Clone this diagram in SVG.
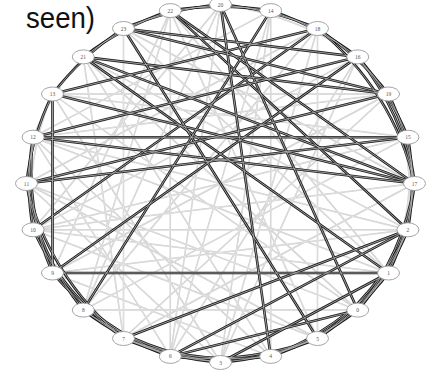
<svg xmlns="http://www.w3.org/2000/svg" xmlns:xlink="http://www.w3.org/1999/xlink" width="433" height="370" viewBox="0 0 433 370">
<style>
.bg{fill:#ffffff}
.title{font-family:"Liberation Sans",Arial,sans-serif;font-size:29px;fill:#111}
.g-out{fill:none;stroke:#c9c9c9;stroke-width:1.5}
.g-in{fill:none;stroke:#f4f4f4;stroke-width:0.45}
.d-out{fill:none;stroke:#1c1c1c;stroke-width:2.6}
.d-in{fill:none;stroke:#bdbdbd;stroke-width:0.8}
.node ellipse{fill:#fff;stroke:#9a9a9a;stroke-width:0.9}
.node text{font-family:"Liberation Serif",serif;font-size:5.5px;fill:#555;text-anchor:middle}
</style>
<rect class="bg" x="0" y="0" width="433" height="370"/>
<text class="title" x="26" y="28" textLength="69" lengthAdjust="spacingAndGlyphs">seen)</text>
<g id="connectors">
<g class="g-out"><g id="grayEdges">
<path d="M170.3,10.6L170.3,356.4"/>
<path d="M270.7,10.6L270.7,356.4"/>
<path d="M123.5,28.5L123.5,338.5"/>
<path d="M317.5,28.5L317.5,338.5"/>
<path d="M33.1,229.8L407.9,229.8"/>
<path d="M83.3,310.1L357.7,310.1"/>
<path d="M52.5,94L388.5,94"/>
<path d="M170.3,10.6L52.5,273"/>
<path d="M170.3,10.6L388.5,273"/>
<path d="M220.5,4.5L33.1,229.8"/>
<path d="M220.5,4.5L83.3,310.1"/>
<path d="M220.5,4.5L170.3,356.4"/>
<path d="M270.7,10.6L33.1,137.2"/>
<path d="M270.7,10.6L170.3,356.4"/>
<path d="M270.7,10.6L220.5,362.5"/>
<path d="M317.5,28.5L26.5,183.5"/>
<path d="M317.5,28.5L83.3,310.1"/>
<path d="M357.7,56.9L33.1,229.8"/>
<path d="M357.7,56.9L220.5,362.5"/>
<path d="M388.5,94L52.5,273"/>
<path d="M388.5,94L123.5,338.5"/>
<path d="M388.5,94L33.1,137.2"/>
<path d="M407.9,137.2L33.1,229.8"/>
<path d="M407.9,137.2L83.3,310.1"/>
<path d="M407.9,137.2L52.5,94"/>
<path d="M414.5,183.5L33.1,229.8"/>
<path d="M414.5,183.5L123.5,338.5"/>
<path d="M414.5,183.5L123.5,28.5"/>
<path d="M407.9,229.8L33.1,137.2"/>
<path d="M407.9,229.8L83.3,56.9"/>
<path d="M407.9,229.8L52.5,273"/>
<path d="M388.5,273L33.1,137.2"/>
<path d="M388.5,273L123.5,28.5"/>
<path d="M388.5,273L33.1,229.8"/>
<path d="M357.7,310.1L26.5,183.5"/>
<path d="M357.7,310.1L83.3,56.9"/>
<path d="M357.7,310.1L52.5,94"/>
<path d="M317.5,338.5L33.1,229.8"/>
<path d="M317.5,338.5L26.5,183.5"/>
<path d="M317.5,338.5L170.3,10.6"/>
<path d="M270.7,356.4L33.1,137.2"/>
<path d="M270.7,356.4L83.3,56.9"/>
<path d="M270.7,356.4L52.5,273"/>
<path d="M220.5,362.5L52.5,94"/>
<path d="M220.5,362.5L26.5,183.5"/>
<path d="M220.5,362.5L317.5,28.5"/>
<path d="M170.3,356.4L33.1,137.2"/>
<path d="M170.3,356.4L357.7,56.9"/>
<path d="M123.5,338.5L83.3,56.9"/>
<path d="M83.3,310.1L170.3,10.6"/>
<path d="M33.1,137.2A300,280 0 0 1 83.3,56.9"/>
<path d="M33.1,229.8A300,280 0 0 1 52.5,94"/>
<path d="M52.5,273A300,280 0 0 1 26.5,183.5"/>
<path d="M407.9,137.2A300,280 0 0 1 388.5,273"/>
<path d="M388.5,94A300,280 0 0 1 407.9,229.8"/>
<path d="M270.7,356.4A300,280 0 0 1 170.3,356.4"/>
<path d="M220.5,4.5A300,280 0 0 1 357.7,56.9"/>
</g></g>
<use xlink:href="#grayEdges" href="#grayEdges" class="g-in"/>
<g class="d-out"><g id="darkEdges">
<path d="M33.1,137.2L407.9,137.2"/>
<path d="M26.5,183.5L407.9,137.2"/>
<path d="M33.1,137.2L414.5,183.5"/>
<path d="M52.5,94L414.5,183.5"/>
<path d="M52.5,94L317.5,28.5"/>
<path d="M83.3,56.9L414.5,183.5"/>
<path d="M83.3,56.9L388.5,273"/>
<path d="M123.5,28.5L388.5,94"/>
<path d="M123.5,28.5L317.5,338.5"/>
<path d="M220.5,4.5L357.7,310.1"/>
<path d="M220.5,4.5L270.7,356.4"/>
<path d="M33.1,229.8L317.5,28.5"/>
<path d="M52.5,273L357.7,56.9"/>
<path d="M83.3,310.1L270.7,10.6"/>
<path d="M407.9,229.8L170.3,356.4"/>
<path d="M407.9,229.8L123.5,338.5"/>
<path d="M388.5,273L220.5,362.5"/>
<path d="M357.7,310.1L170.3,356.4"/>
<path d="M52.5,94L52.5,273"/>
<path d="M83.3,56.9L388.5,94"/>
<path d="M123.5,28.5L357.7,56.9"/>
<path d="M170.3,10.6L407.9,229.8"/>
<path d="M388.5,94L26.5,183.5"/>
<path d="M357.7,56.9L33.1,137.2"/>
<path d="M170.3,10.6L414.5,183.5"/>
<path d="M52.5,273L388.5,273"/>
<path d="M220.5,4.5A300,280 0 0 1 317.5,28.5"/>
<path d="M270.7,10.6A300,280 0 0 1 357.7,56.9"/>
<path d="M317.5,28.5A300,280 0 0 1 388.5,94"/>
<path d="M357.7,56.9A300,280 0 0 1 407.9,137.2"/>
<path d="M357.7,56.9A300,280 0 0 1 414.5,183.5"/>
<path d="M388.5,94A300,280 0 0 1 414.5,183.5"/>
<path d="M317.5,28.5A300,280 0 0 1 414.5,183.5"/>
<path d="M170.3,10.6A300,280 0 0 1 270.7,10.6"/>
<path d="M123.5,28.5A300,280 0 0 1 220.5,4.5"/>
<path d="M83.3,56.9A300,280 0 0 1 170.3,10.6"/>
<path d="M52.5,94A300,280 0 0 1 123.5,28.5"/>
<path d="M26.5,183.5A300,280 0 0 1 52.5,94"/>
<path d="M33.1,229.8A300,280 0 0 1 33.1,137.2"/>
<path d="M52.5,273A300,280 0 0 1 33.1,137.2"/>
<path d="M83.3,310.1A300,280 0 0 1 26.5,183.5"/>
<path d="M123.5,338.5A300,280 0 0 1 26.5,183.5"/>
<path d="M123.5,338.5A300,280 0 0 1 33.1,229.8"/>
<path d="M170.3,356.4A300,280 0 0 1 52.5,273"/>
<path d="M170.3,356.4A300,280 0 0 1 83.3,310.1"/>
<path d="M220.5,362.5A300,280 0 0 1 83.3,310.1"/>
<path d="M270.7,356.4A300,280 0 0 1 123.5,338.5"/>
<path d="M220.5,362.5A300,280 0 0 1 123.5,338.5"/>
<path d="M317.5,338.5A300,280 0 0 1 220.5,362.5"/>
<path d="M317.5,338.5A300,280 0 0 1 170.3,356.4"/>
<path d="M357.7,310.1A300,280 0 0 1 270.7,356.4"/>
<path d="M388.5,273A300,280 0 0 1 270.7,356.4"/>
<path d="M388.5,273A300,280 0 0 1 317.5,338.5"/>
<path d="M407.9,229.8A300,280 0 0 1 317.5,338.5"/>
<path d="M407.9,229.8A300,280 0 0 1 357.7,310.1"/>
<path d="M414.5,183.5A300,280 0 0 1 357.7,310.1"/>
<path d="M414.5,183.5A300,280 0 0 1 388.5,273"/>
<path d="M407.9,137.2A300,280 0 0 1 407.9,229.8"/>
</g></g>
<use xlink:href="#darkEdges" href="#darkEdges" class="d-in"/>
</g>
<g id="nodes">
<g id="n20" class="node"><ellipse cx="220.5" cy="4.5" rx="11" ry="7"/><text x="220.5" y="6.5">20</text></g>
<g id="n14" class="node"><ellipse cx="270.7" cy="10.6" rx="11" ry="7"/><text x="270.7" y="12.6">14</text></g>
<g id="n18" class="node"><ellipse cx="317.5" cy="28.5" rx="11" ry="7"/><text x="317.5" y="30.5">18</text></g>
<g id="n16" class="node"><ellipse cx="357.7" cy="56.9" rx="11" ry="7"/><text x="357.7" y="58.9">16</text></g>
<g id="n19" class="node"><ellipse cx="388.5" cy="94" rx="11" ry="7"/><text x="388.5" y="96">19</text></g>
<g id="n15" class="node"><ellipse cx="407.9" cy="137.2" rx="11" ry="7"/><text x="407.9" y="139.2">15</text></g>
<g id="n17" class="node"><ellipse cx="414.5" cy="183.5" rx="11" ry="7"/><text x="414.5" y="185.5">17</text></g>
<g id="n2" class="node"><ellipse cx="407.9" cy="229.8" rx="11" ry="7"/><text x="407.9" y="231.8">2</text></g>
<g id="n1" class="node"><ellipse cx="388.5" cy="273" rx="11" ry="7"/><text x="388.5" y="275">1</text></g>
<g id="n0" class="node"><ellipse cx="357.7" cy="310.1" rx="11" ry="7"/><text x="357.7" y="312.1">0</text></g>
<g id="n5" class="node"><ellipse cx="317.5" cy="338.5" rx="11" ry="7"/><text x="317.5" y="340.5">5</text></g>
<g id="n4" class="node"><ellipse cx="270.7" cy="356.4" rx="11" ry="7"/><text x="270.7" y="358.4">4</text></g>
<g id="n3" class="node"><ellipse cx="220.5" cy="362.5" rx="11" ry="7"/><text x="220.5" y="364.5">3</text></g>
<g id="n6" class="node"><ellipse cx="170.3" cy="356.4" rx="11" ry="7"/><text x="170.3" y="358.4">6</text></g>
<g id="n7" class="node"><ellipse cx="123.5" cy="338.5" rx="11" ry="7"/><text x="123.5" y="340.5">7</text></g>
<g id="n8" class="node"><ellipse cx="83.3" cy="310.1" rx="11" ry="7"/><text x="83.3" y="312.1">8</text></g>
<g id="n9" class="node"><ellipse cx="52.5" cy="273" rx="11" ry="7"/><text x="52.5" y="275">9</text></g>
<g id="n10" class="node"><ellipse cx="33.1" cy="229.8" rx="11" ry="7"/><text x="33.1" y="231.8">10</text></g>
<g id="n11" class="node"><ellipse cx="26.5" cy="183.5" rx="11" ry="7"/><text x="26.5" y="185.5">11</text></g>
<g id="n12" class="node"><ellipse cx="33.1" cy="137.2" rx="11" ry="7"/><text x="33.1" y="139.2">12</text></g>
<g id="n13" class="node"><ellipse cx="52.5" cy="94" rx="11" ry="7"/><text x="52.5" y="96">13</text></g>
<g id="n21" class="node"><ellipse cx="83.3" cy="56.9" rx="11" ry="7"/><text x="83.3" y="58.9">21</text></g>
<g id="n23" class="node"><ellipse cx="123.5" cy="28.5" rx="11" ry="7"/><text x="123.5" y="30.5">23</text></g>
<g id="n22" class="node"><ellipse cx="170.3" cy="10.6" rx="11" ry="7"/><text x="170.3" y="12.6">22</text></g>
</g>
</svg>
